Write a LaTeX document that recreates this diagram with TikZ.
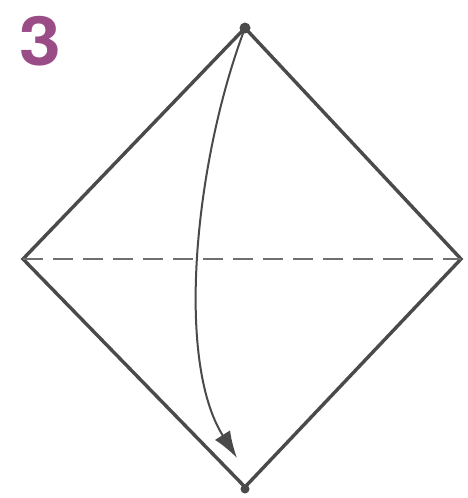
\documentclass[tikz,border=0pt]{standalone}
\usepackage{fontspec}
\setmainfont{TeX Gyre Heros}
\usetikzlibrary{arrows.meta}
\definecolor{edgegray}{HTML}{4A4A4A}
\definecolor{foldgray}{HTML}{707070}
\definecolor{stepmauve}{HTML}{9A4C86}
\tikzset{
  paperedge/.style={draw=edgegray, line width=3.4pt, line join=miter},
  valleyfold/.style={draw=foldgray, line width=2pt, dash pattern=on 20pt off 10pt},
  foldarrow/.style={draw=edgegray, line width=2pt, -{Latex[length=27pt,width=18pt]}},
  cornerdot/.style={circle, fill=edgegray, inner sep=0pt, minimum size=11pt},
  steplabel/.style={font=\bfseries\fontsize{68}{68}\selectfont, text=stepmauve, inner sep=0pt, xscale=1.1}
}
\begin{document}
\begin{tikzpicture}[x=1pt,y=-1pt]
  \useasboundingbox (0,0) rectangle (467,498);
  \coordinate (T) at (245,28);
  \coordinate (L) at (23,259);
  \coordinate (R) at (461,259);
  \coordinate (B) at (245,487);
  \coordinate (E) at (237,458);
  \draw[paperedge] (T) -- (R) -- (B) -- (L) -- cycle;
  \draw[valleyfold] (L) -- (R);
  \draw[foldarrow] (T) .. controls (195,160) and (175,360) .. (E);
  \node[cornerdot] (dt) at (T) {};
  \node[cornerdot, minimum size=9pt] (db) at (245,489) {};
  \node[steplabel] (num) at (40,41) {3};
\end{tikzpicture}
\end{document}
